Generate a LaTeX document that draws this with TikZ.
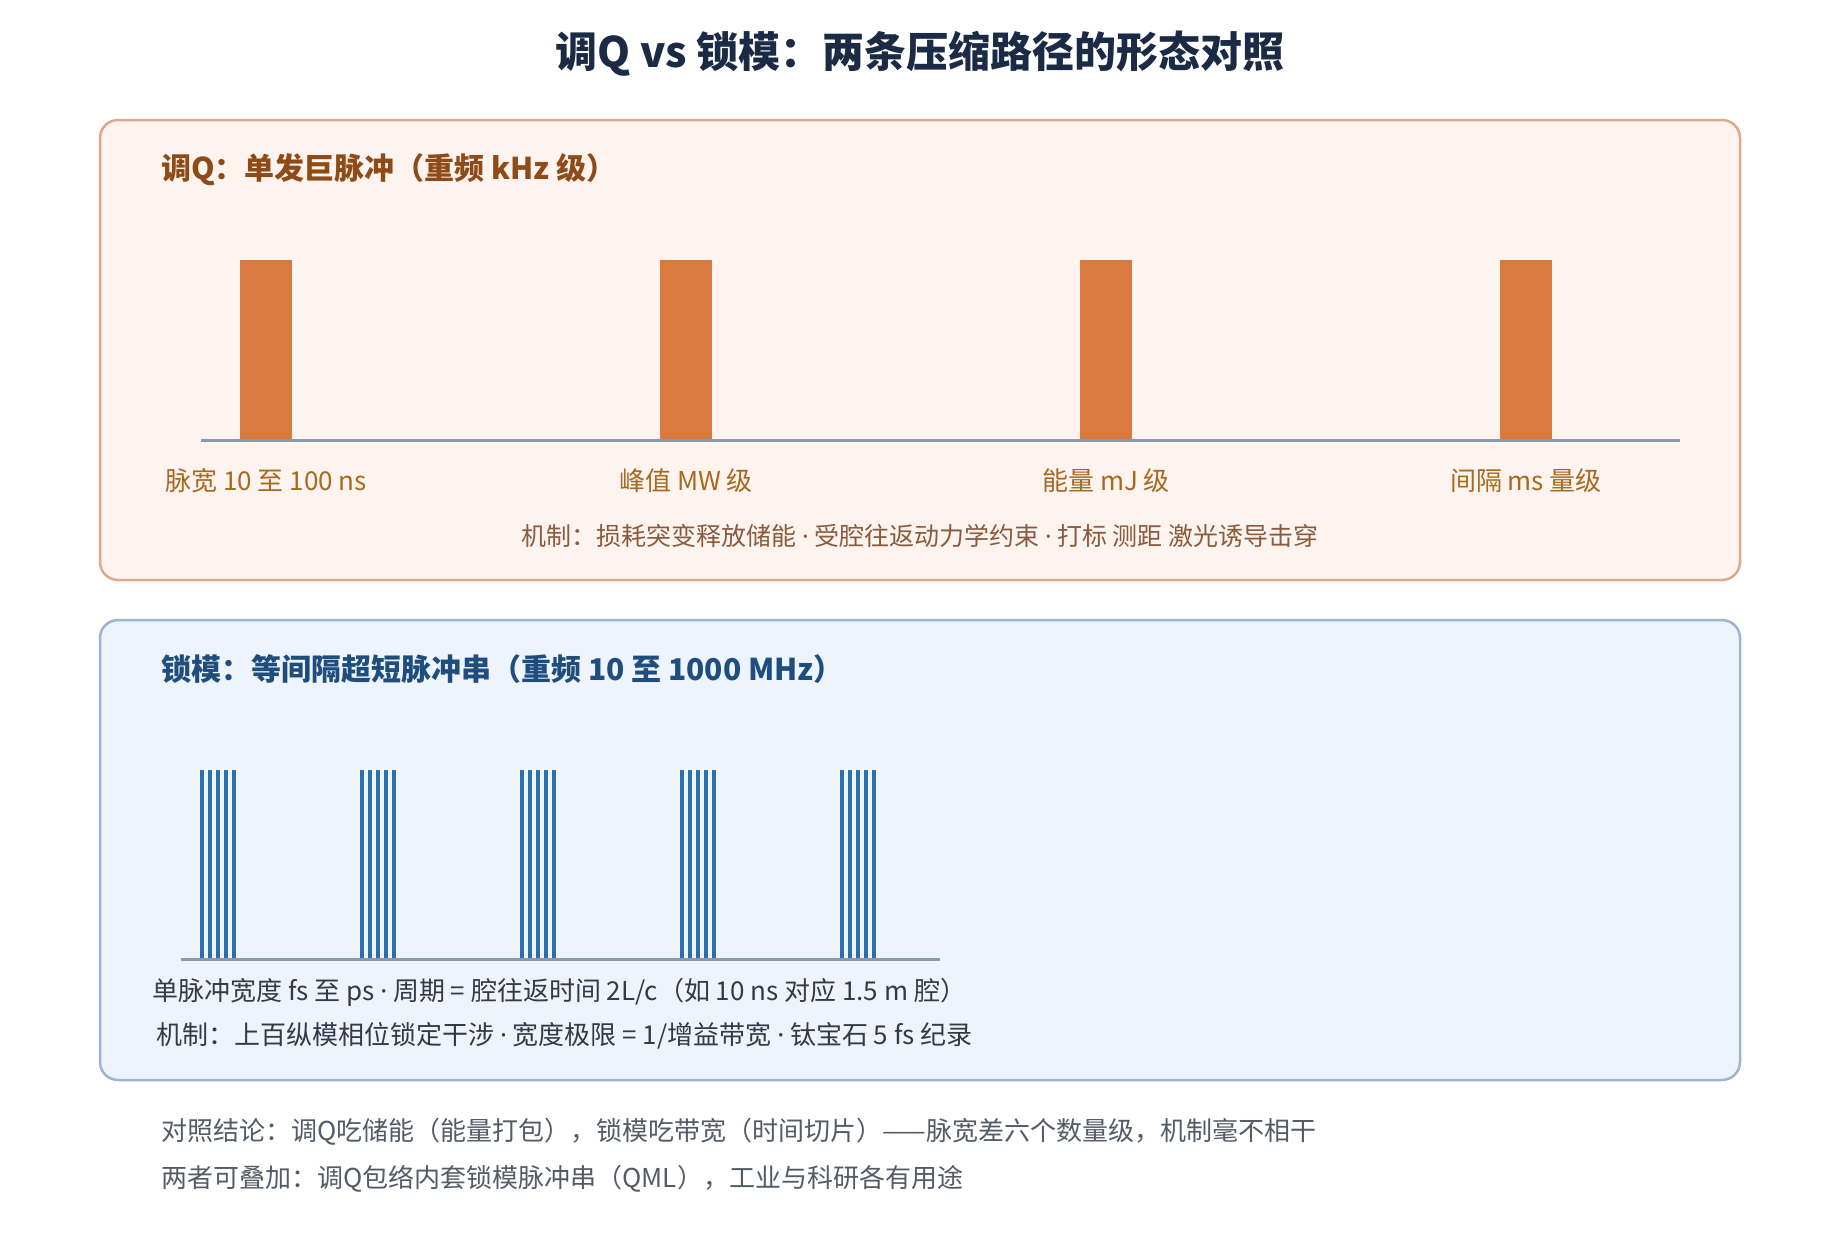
\documentclass[tikz,border=0pt]{standalone}
\usepackage{fontspec}
\setmainfont{Noto Sans CJK SC}
\newfontfamily\latinfam{Noto Sans}
\newcommand\pdot{{\latinfam ·}}
\definecolor{titlec}{HTML}{1B2A45}
\definecolor{qfill}{HTML}{FDF4EF}
\definecolor{qdraw}{HTML}{DCA98F}
\definecolor{qhead}{HTML}{8E4A17}
\definecolor{qbar}{HTML}{D97B3E}
\definecolor{qlab}{HTML}{A8691F}
\definecolor{qmech}{HTML}{8A5A3C}
\definecolor{mfill}{HTML}{EDF4FB}
\definecolor{mdraw}{HTML}{9DB5D0}
\definecolor{mhead}{HTML}{1F4E7E}
\definecolor{mline}{HTML}{2F6FAD}
\definecolor{axisc}{HTML}{8C9AAD}
\definecolor{bodyc}{HTML}{333A45}
\definecolor{notec}{HTML}{555B66}
\tikzset{
  panel/.style={rounded corners=18pt, line width=2.5pt},
  txt/.style={inner sep=0pt, anchor=west},
  fsz/.style={font=\fontsize{#1}{#1}\selectfont},
}
\begin{document}
\begin{tikzpicture}[x=1pt,y=-1pt]
\useasboundingbox[fill=white] (0,0) rectangle (1840,1240);
% title
\node[inner sep=0pt, text=titlec, fsz=42] (title) at (920,54) {\bfseries 调Q vs 锁模：两条压缩路径的形态对照};
% top panel
\draw[panel, fill=qfill, draw=qdraw] (100,120) rectangle (1740,580);
\node[txt, text=qhead, fsz=30] (qh) at (161,170) {\bfseries 调Q：单发巨脉冲（重频 kHz 级）};
\foreach \cx in {266,686,1106,1526} {
  \fill[qbar] (\cx-26,260) rectangle (\cx+26,440);
}
\draw[axisc, line width=3pt] (201,440) -- (1680,440);
\node[inner sep=0pt, text=qlab, fsz=26] (l1) at (266,481) {脉宽 10 至 100 ns};
\node[inner sep=0pt, text=qlab, fsz=26] (l2) at (686,481) {峰值 MW 级};
\node[inner sep=0pt, text=qlab, fsz=26] (l3) at (1106,481) {能量 mJ 级};
\node[inner sep=0pt, text=qlab, fsz=26] (l4) at (1526,481) {间隔 ms 量级};
\node[inner sep=0pt, text=qmech, fsz=25] (qm) at (920,536) {机制：损耗突变释放储能 \pdot{} 受腔往返动力学约束 \pdot{} 打标 测距 激光诱导击穿};
% bottom panel
\draw[panel, fill=mfill, draw=mdraw] (100,620) rectangle (1740,1080);
\node[txt, text=mhead, fsz=30] (mh) at (161,669) {\bfseries 锁模：等间隔超短脉冲串（重频 10 至 1000 MHz）};
\foreach \gx in {200,360,520,680,840} {
  \foreach \k in {0,...,4} {
    \fill[mline] (\gx+8*\k,770) rectangle (\gx+8*\k+4.3,958);
  }
}
\draw[axisc, line width=3pt] (181,959) -- (940,959);
\node[txt, text=bodyc, fsz=26] (m1) at (152,992) {单脉冲宽度 fs 至 ps \pdot{} 周期 = 腔往返时间 2L/c（如 10 ns 对应 1.5 m 腔）};
\node[txt, text=bodyc, fsz=26] (m2) at (156,1036) {机制：上百纵模相位锁定干涉 \pdot{} 宽度极限 = 1/增益带宽 \pdot{} 钛宝石 5 fs 纪录};
% notes
\node[txt, text=notec, fsz=26] (n1) at (161,1132) {对照结论：调Q吃储能（能量打包），锁模吃带宽（时间切片）——脉宽差六个数量级，机制毫不相干};
\node[txt, text=notec, fsz=26] (n2) at (161,1179) {两者可叠加：调Q包络内套锁模脉冲串（QML），工业与科研各有用途};
\end{tikzpicture}
\end{document}
